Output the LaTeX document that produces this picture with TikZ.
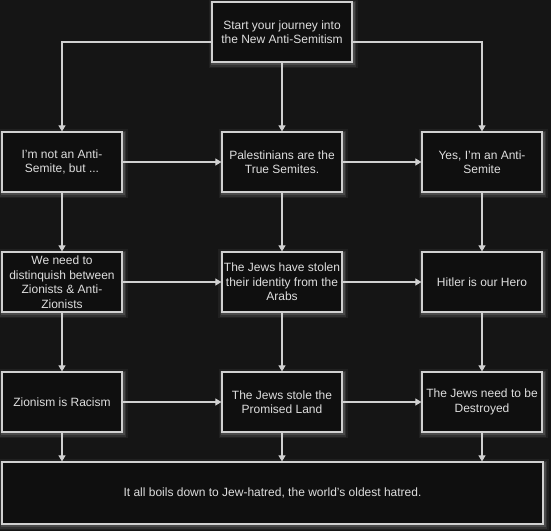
\documentclass[tikz,border=0pt]{standalone}
\usepackage{fontspec}
\setmainfont{Liberation Sans}
\usetikzlibrary{arrows.meta}
\definecolor{bg}{HTML}{151515}
\definecolor{boxfill}{HTML}{0F0F0F}
\definecolor{edge}{HTML}{D0D0D0}
\definecolor{ink}{HTML}{DEDEDE}

\begin{document}
\begin{tikzpicture}[x=1pt,y=-1pt,
  box/.style={draw=edge, line width=1.2pt, fill=boxfill,
    minimum width=120pt, minimum height=60pt, inner sep=2pt,
    align=center, text=ink, font=\fontsize{12}{14.5}\selectfont,
    preaction={draw=white, draw opacity=0.05, line width=9pt,
      transform canvas={xshift=1pt, yshift=-1.5pt}},
    preaction={draw=white, draw opacity=0.08, line width=6pt,
      transform canvas={xshift=1pt, yshift=-1.5pt}},
    preaction={draw=white, draw opacity=0.12, line width=3.5pt,
      transform canvas={xshift=1pt, yshift=-1.5pt}}},
  arr/.style={draw=edge, line width=1.1pt,
    -{Triangle[width=7pt,length=6pt]}}]

% canvas
\fill[bg] (0,0) rectangle (551,531);

% start
\node[box, minimum width=140pt] (start) at (282,32)
  {Start your journey into\\the New Anti-Semitism};

% first row
\node[box] (l1) at (62,162) {I'm not an Anti-\\Semite, but ...};
\node[box] (m1) at (282,162) {Palestinians are the\\True Semites.};
\node[box] (r1) at (482,162) {Yes, I'm an Anti-\\Semite};

% second row
\node[box] (l2) at (62,282)
  {We need to\\distinquish between\\Zionists \& Anti-\\Zionists};
\node[box] (m2) at (282,282)
  {The Jews have stolen\\their identity from the\\Arabs};
\node[box] (r2) at (482,282) {Hitler is our Hero};

% third row
\node[box] (l3) at (62,402) {Zionism is Racism};
\node[box] (m3) at (282,402) {The Jews stole the\\Promised Land};
\node[box] (r3) at (482,402) {The Jews need to be\\Destroyed};

% conclusion
\node[box, minimum width=541pt, minimum height=62pt] (end) at (272.5,493)
  {It all boils down to Jew-hatred, the world's oldest hatred.};

% branches from the start
\draw[arr] ([yshift=-10pt]start.west) -| (l1.north);
\draw[arr] ([yshift=-10pt]start.east) -| (r1.north);
\draw[arr] (start) -- (m1);

% horizontal links
\draw[arr] (l1) -- (m1);
\draw[arr] (m1) -- (r1);
\draw[arr] (l2) -- (m2);
\draw[arr] (m2) -- (r2);
\draw[arr] (l3) -- (m3);
\draw[arr] (m3) -- (r3);

% vertical links
\draw[arr] (l1) -- (l2);
\draw[arr] (l2) -- (l3);
\draw[arr] (m1) -- (m2);
\draw[arr] (m2) -- (m3);
\draw[arr] (r1) -- (r2);
\draw[arr] (r2) -- (r3);
\draw[arr] (l3) -- (l3 |- end.north);
\draw[arr] (m3) -- (m3 |- end.north);
\draw[arr] (r3) -- (r3 |- end.north);
\end{tikzpicture}
\end{document}
